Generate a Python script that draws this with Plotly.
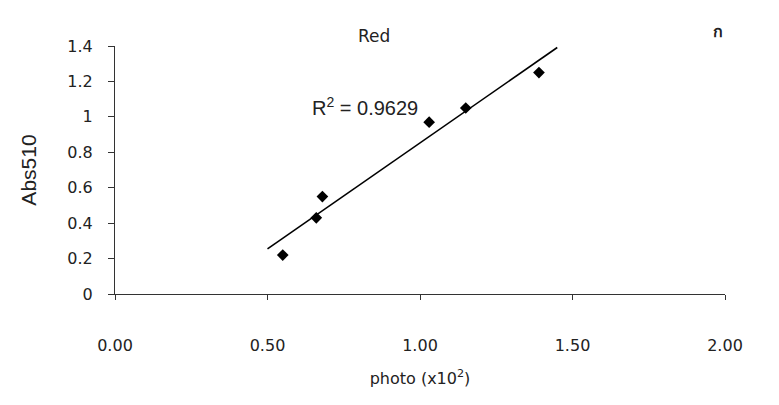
import numpy as np
import plotly.graph_objects as go

photo = [0.55, 0.66, 0.68, 1.03, 1.15, 1.39]
abs510 = [0.22, 0.43, 0.55, 0.97, 1.05, 1.25]
trend_x_range = [0.50, 1.45]
x_ticks = [0.0, 0.5, 1.0, 1.5, 2.0]
x_tick_text = ["0.00", "0.50", "1.00", "1.50", "2.00"]
y_ticks = [0, 0.2, 0.4, 0.6, 0.8, 1.0, 1.2, 1.4]
y_tick_text = ["0", "0.2", "0.4", "0.6", "0.8", "1", "1.2", "1.4"]

slope, intercept = np.polyfit(photo, abs510, 1)
tx = np.array(trend_x_range)
ty = slope * tx + intercept

FONT = "Liberation Sans, Arial, sans-serif"
WIDE = "DejaVu Sans, Verdana, sans-serif"

fig = go.Figure()
fig.add_trace(go.Scatter(x=tx, y=ty, mode="lines",
                         line=dict(color="black", width=1.6), showlegend=False))
fig.add_trace(go.Scatter(x=photo, y=abs510, mode="markers",
                         marker=dict(symbol="diamond", size=9, color="black"),
                         showlegend=False))

fig.update_layout(
    width=779, height=405,
    margin=dict(l=115, r=54, t=46, b=111),
    paper_bgcolor="white", plot_bgcolor="white",
    font=dict(family=FONT, size=14, color="#222"),
    xaxis=dict(range=[0, 2], tickvals=x_ticks, ticktext=x_tick_text,
               showgrid=False, zeroline=False, showline=True, linecolor="#333",
               linewidth=1, ticks="outside", ticklen=5, tickcolor="#333",
               ticklabelstandoff=32, tickfont=dict(size=16, family=WIDE),
               title=dict(text="photo (x10<sup>2</sup>)",
                          font=dict(size=16, family=WIDE), standoff=18)),
    yaxis=dict(range=[0, 1.4], tickvals=y_ticks, ticktext=y_tick_text,
               showgrid=False, zeroline=False, showline=True, linecolor="#333",
               linewidth=1.2, ticks="outside", ticklen=6, tickcolor="#333",
               ticklabelstandoff=12, tickfont=dict(size=16, family=WIDE),
               title=dict(text="Abs510", font=dict(size=21, family=FONT), standoff=24)),
    annotations=[
        dict(text="Red", x=0.425, y=1.0, xref="paper", yref="paper",
             xanchor="center", yanchor="bottom", yshift=-2, showarrow=False,
             font=dict(size=17, family=WIDE)),
        dict(text="R<sup>2</sup> = 0.9629", x=0.82, y=1.06, xref="x", yref="y",
             xanchor="center", yanchor="middle", showarrow=False,
             font=dict(size=20, family=FONT)),
        dict(text="<b>ก</b>", x=1.0, y=1.06, xref="paper", yref="paper",
             xanchor="center", yanchor="middle", xshift=-7, showarrow=False,
             font=dict(size=16, family="Noto Sans, DejaVu Sans", color="#222")),
    ],
)

fig.write_html("out.html")
